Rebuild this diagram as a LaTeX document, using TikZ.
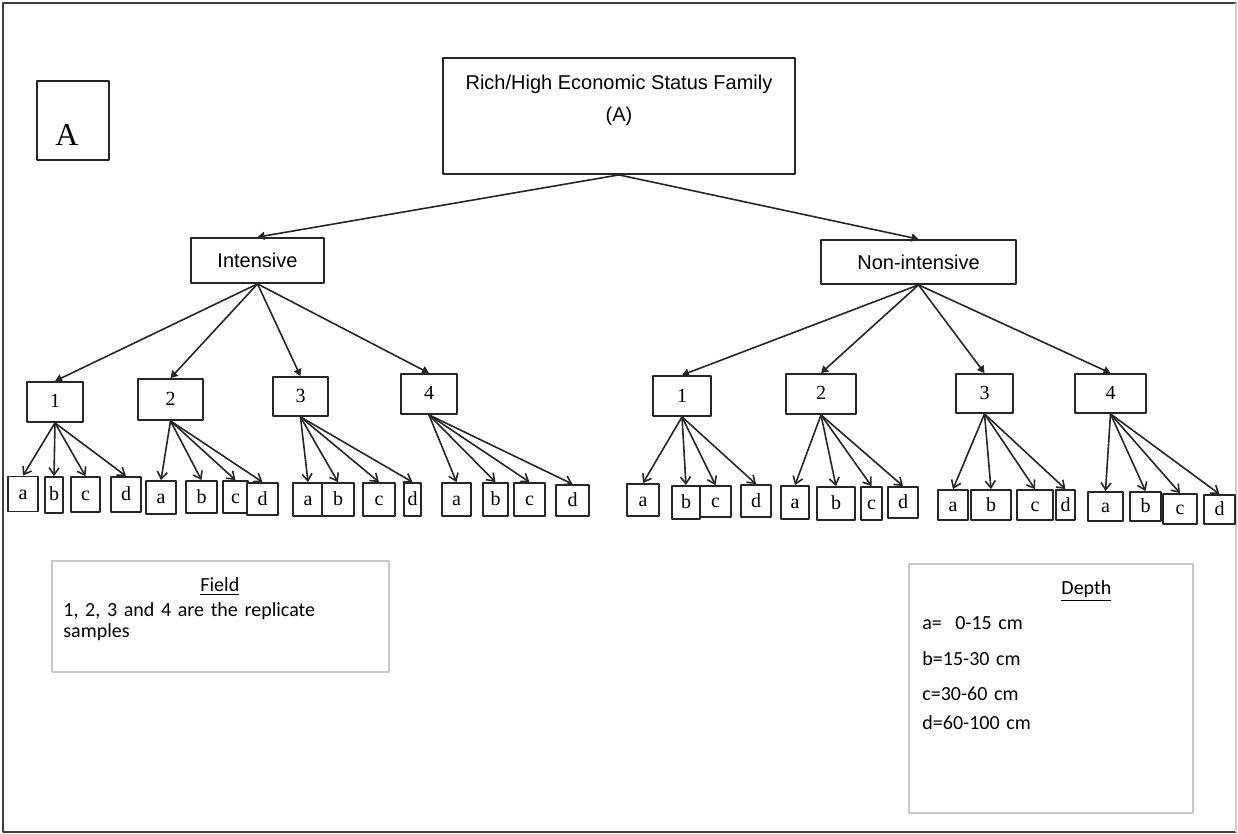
\documentclass[tikz,border=0pt]{standalone}
\usepackage{fontspec}
\setmainfont{Liberation Serif}
\newfontfamily\arialfont{Liberation Sans}
\newfontfamily\calibrifont{Carlito}
\usetikzlibrary{arrows.meta}

\tikzset{
	box/.style={draw=black!85, line width=0.9pt, fill=white, inner sep=0pt},
	headbox/.style={box, font=\arialfont\fontsize{10}{12}\selectfont},
	repbox/.style={box, font=\fontsize{10}{12}\selectfont, text height=6.5pt, text depth=0.5pt},
	keybox/.style={draw=black!22, line width=0.8pt, inner sep=0pt, anchor=north west},
	keytext/.style={font=\calibrifont\fontsize{10}{14.5}\selectfont, inner sep=0pt, anchor=north west},
	upper/.style={draw=black!85, line width=0.8pt, -{Triangle[length=3.5pt,width=4pt]}},
	lower/.style={draw=black!85, line width=0.8pt, -{Straight Barb[length=3.5pt,width=5pt]}},
}

\begin{document}
\begin{tikzpicture}[x=0.5pt, y=-0.5pt, line join=round, line cap=round]
	\useasboundingbox (0,0) rectangle (1238,834);
	% page frame
	\draw[black!75, line width=1pt] (1236,3) -- (3,3) -- (3,832) -- (1236,832);
	\draw[black!20, line width=0.6pt] (1236,3) -- (1236,832);
	
	\node[box, minimum width=36pt, minimum height=39.5pt,
		label={[font=\fontsize{16}{19}\selectfont, xshift=-3pt, yshift=-7pt]center:A}] (tagA) at (73,120.5) {};
	
	\node[box, minimum width=176pt, minimum height=58pt] (root) at (619,116) {};
	\node[font=\arialfont\fontsize{10}{16}\selectfont, align=center, anchor=north, inner sep=0pt] (roottxt)
		at ([yshift=-9pt]root.north) {Rich/High Economic Status Family\\(A)};
	
	\node[headbox, minimum width=66.5pt, minimum height=22.5pt] (int) at (257.5,260.5) {Intensive};
	\node[headbox, minimum width=97.5pt, minimum height=22pt] (nonint) at (918.5,262) {Non-intensive};
	
	% replicate samples
	\foreach \n/\x/\y/\w/\h/\t in {L1/55/402/56/40/1, L2/170.5/399.5/65/41/2, L3/300.5/396.5/55/39/3, L4/429/394/56/40/4,
		R1/682/396/58/40/1, R2/821/394/70/40/2, R3/984.5/393.5/57/39/3, R4/1110.5/393.5/71/39/4}{
		\node[repbox, minimum width=\w*0.5pt, minimum height=\h*0.5pt] (\n) at (\x,\y) {\t};
	}
	
	% depths
	\foreach \p/\l/\x/\y/\w/\h in {
		L1/a/23/494/30/35, L1/b/54/495/18/36, L1/c/85.5/494.5/29/35, L1/d/126/494.5/30/35,
		L2/a/161/497.5/30/33, L2/b/201.5/497/31/32, L2/c/235.5/497/25/32, L2/d/262.5/499/31/32,
		L3/a/308/499.5/30/33, L3/b/338/499.5/32/33, L3/c/379/499.5/32/33, L3/d/412.5/499.5/17/33,
		L4/a/456.5/499.5/29/33, L4/b/495.5/499.5/25/33, L4/c/529.5/499.5/31/33, L4/d/572.5/500.5/33/31,
		R1/a/643/500/32/32, R1/b/686/502.5/28/33, R1/c/715.5/501.5/31/31, R1/d/756/501/30/32,
		R2/a/795/502.5/28/33, R2/b/836/503.5/38/33, R2/c/871.5/503.5/21/33, R2/d/903/502.5/30/31,
		R3/a/953/505/30/30, R3/b/991/505/40/30, R3/c/1035/505/36/30, R3/d/1065.5/505/19/30,
		R4/a/1105.5/506.5/35/29, R4/b/1145.5/506.5/31/29, R4/c/1180/509/34/30, R4/d/1219.5/509.5/31/29}{
		\node[repbox, minimum width=\w*0.5pt, minimum height=\h*0.5pt] (\p\l) at (\x,\y) {\l};
	}
	
	\draw[upper] (root.south) -- (int.north);
	\draw[upper] (root.south) -- (nonint.north);
	\foreach \n in {L1,L2,L3,L4}{
		\draw[upper] (int.south) -- (\n.north);
	}
	\foreach \n in {R1,R2,R3,R4}{
		\draw[upper] (nonint.south) -- (\n.north);
	}
	\foreach \n in {L1,L2,L3,L4,R1,R2,R3,R4}{
		\foreach \l in {a,b,c,d}{
			\draw[lower] (\n.south) -- (\n\l.north);
		}
	}
	
	% keys
	\node[keybox, minimum width=168.5pt, minimum height=55.5pt] (fieldkey) at (51,560) {};
	\node[keytext, text width=156.5pt, font=\calibrifont\fontsize{10}{10.5}\selectfont] (fieldtxt) at (63,577)
		{{\centering\underline{Field}\par}\vspace{2pt}\raggedright 1, 2, 3 and 4 are the replicate\\samples};
	
	\node[keybox, minimum width=142pt, minimum height=124.5pt] (depthkey) at (908,563) {};
	\node[keytext, text width=164pt] (depthtxt) at (922,580)
		{{\centering\underline{Depth}\par}\vspace{3pt}\raggedright a=\ \ 0-15 cm\\[3.5pt]b=15-30 cm\\[3pt]c=30-60 cm\\d=60-100 cm};
\end{tikzpicture}
\end{document}
